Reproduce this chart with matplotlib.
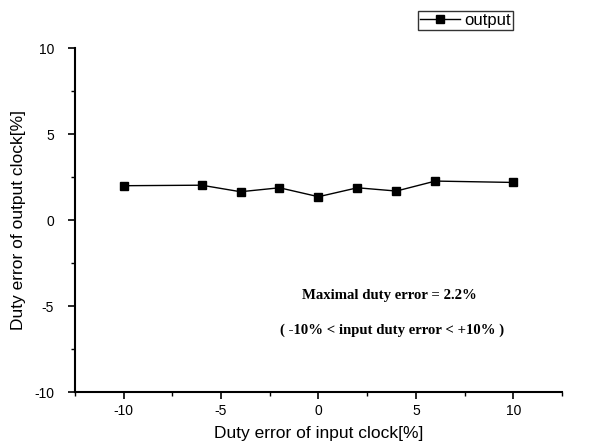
import matplotlib
matplotlib.use('Agg')
import matplotlib.pyplot as plt
from matplotlib.ticker import MultipleLocator

plt.rcParams['font.family'] = ['Liberation Sans', 'DejaVu Sans']
plt.rcParams['axes.unicode_minus'] = False

# dados
entrada = [-10, -6, -4, -2, 0, 2, 4, 6, 10]
saida = [2.0, 2.03, 1.65, 1.88, 1.36, 1.88, 1.69, 2.27, 2.19]

fig = plt.figure(figsize=(5.9, 4.46), dpi=100)
ax = fig.add_axes([0.127, 0.121, 0.8255, 0.771])

ax.plot(entrada, saida, color='black', marker='s', markersize=5.5,
        linewidth=1.0, label='output')

ax.set_xlim(-12.5, 12.5)
ax.set_ylim(-10, 10)
ax.xaxis.set_major_locator(MultipleLocator(5))
ax.xaxis.set_minor_locator(MultipleLocator(2.5))
ax.yaxis.set_major_locator(MultipleLocator(5))
ax.yaxis.set_minor_locator(MultipleLocator(2.5))

ax.spines['top'].set_visible(False)
ax.spines['right'].set_visible(False)
ax.spines['left'].set_linewidth(1.5)
ax.spines['bottom'].set_linewidth(1.5)
ax.tick_params(which='major', direction='out', length=5, width=1.2, labelsize=10)
ax.tick_params(axis='y', which='major', pad=10)
ax.tick_params(which='minor', direction='out', length=3, width=1.0)

ax.set_xlabel('Duty error of input clock[%]', fontsize=12.5, labelpad=6)
ax.set_ylabel('Duty error of output clock[%]', fontsize=12.5, labelpad=6)

ax.text(0.645, 0.282, 'Maximal duty error = 2.2%', transform=ax.transAxes,
        ha='center', va='center', fontsize=10.6, fontweight='bold',
        family='Liberation Serif')
ax.text(0.651, 0.18, '( -10% < input duty error < +10% )', transform=ax.transAxes,
        ha='center', va='center', fontsize=10.6, fontweight='bold',
        family='Liberation Serif')

leg = fig.legend(loc='upper right', bbox_to_anchor=(0.87, 0.976), fontsize=12,
                 frameon=True, fancybox=False, edgecolor='black',
                 handlelength=2.4, handletextpad=0.3, borderpad=0.12,
                 borderaxespad=0)
leg.get_frame().set_linewidth(1.0)

fig.savefig('out.png', dpi=100)
